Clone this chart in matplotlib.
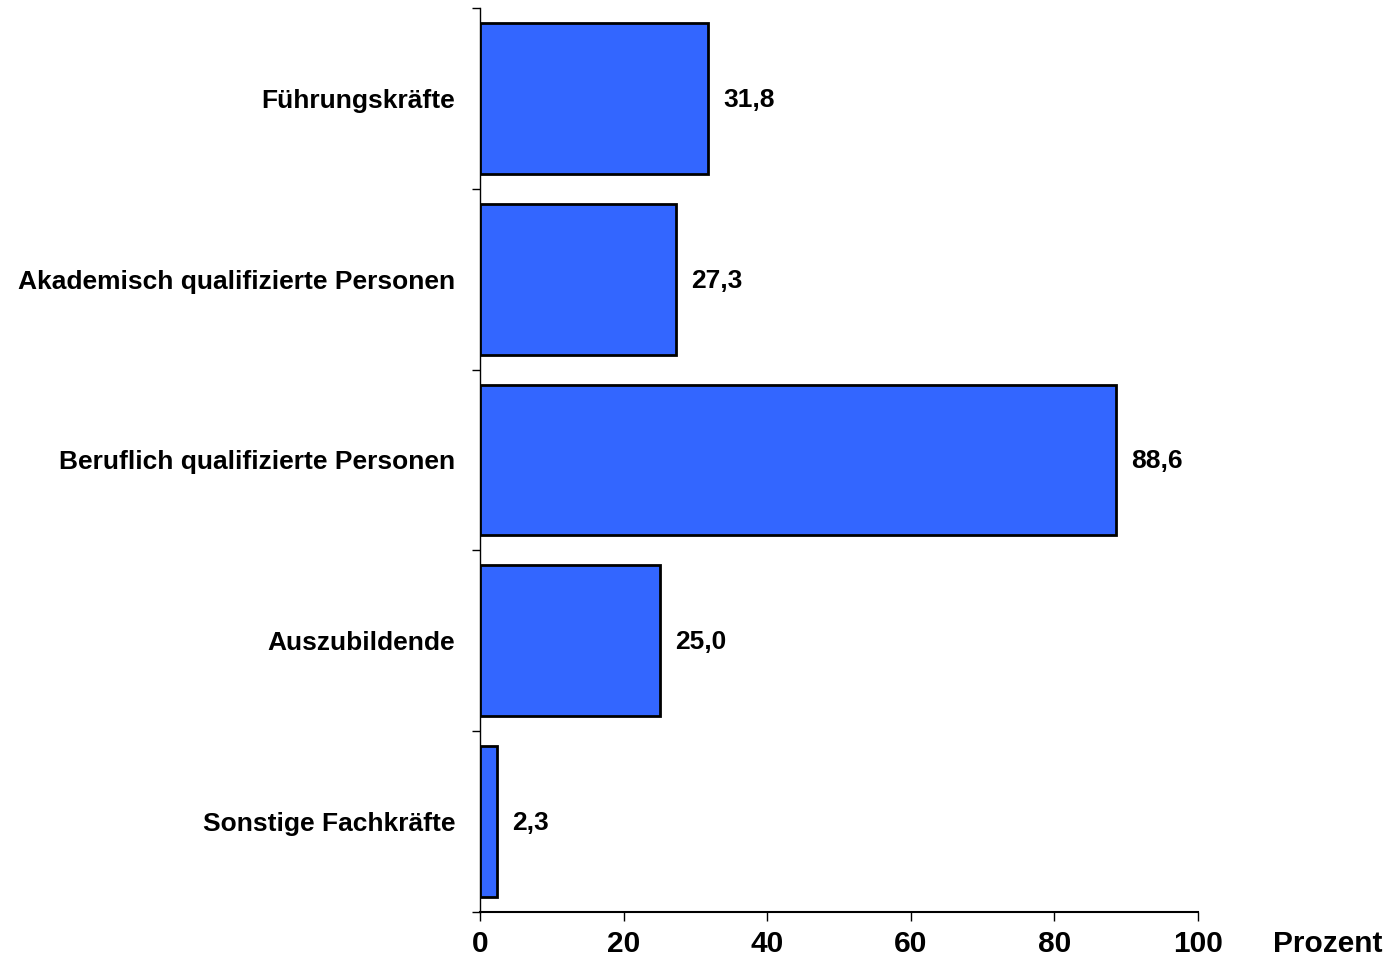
import matplotlib
matplotlib.use("Agg")
import matplotlib.pyplot as plt

categories = ["Führungskräfte", "Akademisch qualifizierte Personen",
              "Beruflich qualifizierte Personen", "Auszubildende", "Sonstige Fachkräfte"]
values = [31.8, 27.3, 88.6, 25.0, 2.3]
value_labels = ["31,8", "27,3", "88,6", "25,0", "2,3"]
xticks = [0, 20, 40, 60, 80, 100]
unit_label = "Prozent"

plt.rcParams['font.family'] = ['Liberation Sans', 'DejaVu Sans']
plt.rcParams['font.weight'] = 'bold'

fig = plt.figure(figsize=(13.95, 9.61), dpi=100)
ax = fig.add_axes([0.3441, 0.051, 0.5147, 0.9407])

n = len(categories)
ypos = list(range(n))
ax.barh(ypos, values, height=0.834, color='#3366FF', edgecolor='black', linewidth=2, zorder=3)
ax.set_ylim(n - 0.5, -0.5)
ax.set_xlim(0, 100)

ax.set_yticks(ypos)
ax.set_yticklabels(categories, fontsize=19, fontweight='bold')
ax.set_yticks([i - 0.5 for i in range(n + 1)], minor=True)
ax.tick_params(axis='y', which='major', length=0, pad=18)
ax.tick_params(axis='y', which='minor', length=6, width=1, direction='out')

ax.set_xticks(xticks)
ax.set_xticklabels([str(t) for t in xticks], fontsize=21.5, fontweight='bold')
ax.tick_params(axis='x', length=6.5, width=1, direction='out', pad=6.5)

for s in ['top', 'right']:
    ax.spines[s].set_visible(False)
ax.spines['left'].set_linewidth(1)
ax.spines['bottom'].set_linewidth(1.5)

for y, v, lab in zip(ypos, values, value_labels):
    ax.annotate(lab, xy=(v, y), xytext=(11, -1), textcoords='offset points',
                ha='left', va='center', fontsize=19, fontweight='bold')

ax.annotate(unit_label, xy=(118, 0), xycoords=('data', 'axes fraction'),
            xytext=(0, -13), textcoords='offset points', ha='center', va='top',
            fontsize=21.5, fontweight='bold', annotation_clip=False)

fig.savefig("out.png", dpi=100)
